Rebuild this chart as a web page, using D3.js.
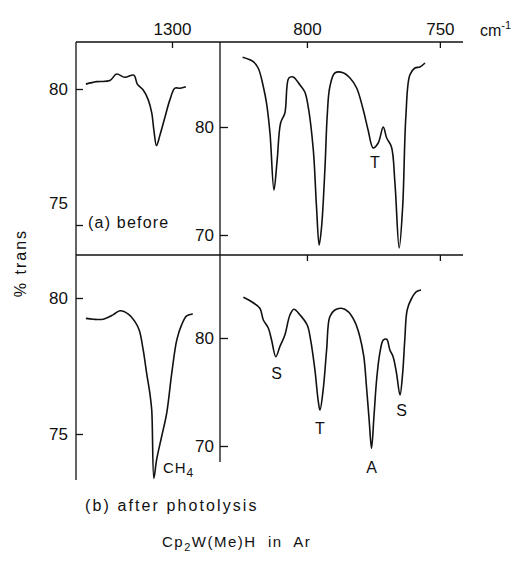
<!DOCTYPE html>
<html>
<head>
<meta charset="utf-8">
<script src="https://cdn.jsdelivr.net/npm/d3@7"></script>
<style>
  body { margin: 0; background: #fff; }
  svg text { font-family: "Liberation Sans", sans-serif; fill: #111; }
</style>
</head>
<body>
<svg id="chart" width="514" height="573"></svg>
<script>
// espectros: [numero de onda (cm-1), % trans]
const beforeCH4 = [[1332.3,80.18],[1328.3,80.27],[1323.3,80.31],[1320.8,80.55],[1317.7,80.43],[1314.3,80.51],
  [1313.0,80.18],[1310.8,79.96],[1308.9,79.6],[1307.6,79.12],[1306.8,78.49],[1305.8,77.92],[1304.5,78.31],
  [1302.6,78.98],[1300.8,79.6],[1298.9,80.03],[1297.0,80.03],[1294.8,80.08]];

const beforeLow = [[824.2,86.45],[820.2,86.05],[818.3,85.44],[816.4,83.73],[815.2,82.22],[813.9,79.44],
  [812.4,74.17],[811.2,76.94],[809.9,80.37],[808.3,81.3],[806.8,84.54],[805.2,84.63],[802.6,83.89],
  [800.8,83.24],[799.5,81.85],[797.6,77.87],[796.4,72.59],[795.4,69.07],[794.5,70.74],[793.2,76.3],
  [792.4,80.93],[791.4,83.7],[789.5,85.0],[786.4,85.03],[783.8,84.54],[781.3,83.61],[778.8,81.57],
  [777.0,79.72],[775.1,78.06],[773.2,78.52],[771.3,80.0],[770.0,78.98],[768.2,78.15],[766.9,74.81],
  [765.3,68.8],[764.0,72.59],[762.8,80.93],[761.3,84.81],[759.4,85.46],[757.5,85.56],[755.6,85.93]];

const afterCH4 = [[1332.3,79.25],[1329.6,79.22],[1325.8,79.22],[1322.1,79.38],[1319.5,79.53],[1316.4,79.41],
  [1313.9,79.13],[1312.3,78.82],[1310.8,78.09],[1309.5,77.23],[1308.3,76.49],[1307.6,75.88],[1306.8,73.37],
  [1305.8,74.04],[1303.9,74.9],[1302.0,75.76],[1300.1,77.23],[1298.2,78.46],[1296.4,79.01],[1294.5,79.34],
  [1292.2,79.41]];

const afterLow = [[823.9,83.77],[820.8,83.36],[817.7,82.75],[816.4,81.67],[814.5,80.9],[813.3,79.81],
  [811.7,78.27],[810.2,79.19],[808.3,80.28],[806.4,82.13],[804.9,82.66],[802.6,82.13],[799.9,81.2],
  [798.6,79.81],[797.0,77.04],[795.8,74.26],[795.1,73.33],[793.9,75.19],[792.6,78.89],[791.4,81.97],
  [789.5,82.59],[787.0,82.75],[784.5,82.44],[782.0,81.51],[780.1,80.12],[778.6,78.27],[777.6,75.49],
  [776.6,72.41],[775.7,69.79],[774.8,72.71],[773.8,76.11],[772.6,78.58],[771.3,79.81],[770.0,79.88],
  [768.8,78.89],[767.6,78.27],[766.3,76.73],[765.0,74.72],[764.0,76.73],[763.2,79.81],[762.3,82.59],
  [760.6,83.68],[758.8,84.29],[757.1,84.44]];

// rótulos das bandas
const labelsBefore = [{text: "T", cm: 774.4, t: 76.7}];
const labelsAfter = [
  {text: "S", cm: 811.4, t: 76.7},
  {text: "T", cm: 795.1, t: 71.6},
  {text: "A", cm: 775.7, t: 68.0},
  {text: "S", cm: 764.4, t: 73.3}
];

const ticksHigh = [1300];
const ticksLow = [800, 750];
const ticksTopLeft = [80, 75];
const ticksTopRight = [80, 70];
const ticksBotLeft = [80, 75];
const ticksBotRight = [80, 70];

const svg = d3.select("#chart");

// escalas
const xHigh = d3.scaleLinear().domain([1336, 1282]).range([76, 220]);
const xLow = d3.scaleLinear().domain([832.7, 741.3]).range([220, 463]);
const yTL = d3.scaleLinear().domain([75, 80]).range([225, 89]);
const yTR = d3.scaleLinear().domain([70, 80]).range([235, 127]);
const yBL = d3.scaleLinear().domain([75, 80]).range([434, 298]);
const yBR = d3.scaleLinear().domain([70, 80]).range([446, 338]);

const frame = svg.append("g").attr("stroke", "#111").attr("stroke-width", 1.3).attr("fill", "none");
frame.append("line").attr("x1", 76).attr("x2", 463).attr("y1", 42).attr("y2", 42);
frame.append("line").attr("x1", 76).attr("x2", 463).attr("y1", 255).attr("y2", 255);
frame.append("line").attr("x1", 76).attr("x2", 76).attr("y1", 42).attr("y2", 480);
frame.append("line").attr("x1", 220).attr("x2", 220).attr("y1", 42).attr("y2", 462);

function styleAxis(g) {
  g.select(".domain").remove();
  g.selectAll(".tick line").attr("stroke", "#111").attr("stroke-width", 1.3);
  g.selectAll("text").style("font-size", "17px").attr("fill", "#111")
    .style("font-family", "Liberation Sans, sans-serif");
}

const fmt = d3.format("d");

// eixos de cima
svg.append("g").attr("transform", "translate(0,42)")
  .call(d3.axisTop(xHigh).tickValues(ticksHigh).tickFormat(fmt).tickSizeInner(-6).tickPadding(7))
  .call(styleAxis);
svg.append("g").attr("transform", "translate(0,42)")
  .call(d3.axisTop(xLow).tickValues(ticksLow).tickFormat(fmt).tickSizeInner(-6).tickPadding(7))
  .call(styleAxis);
svg.append("g").attr("transform", "translate(0,255)")
  .call(d3.axisTop(xLow).tickValues(ticksLow).tickFormat("").tickSizeInner(-6))
  .call(styleAxis);

// eixos y
svg.append("g").attr("transform", "translate(76,0)")
  .call(d3.axisLeft(yTL).tickValues(ticksTopLeft).tickFormat(fmt).tickSizeInner(-7).tickPadding(8))
  .call(styleAxis)
  .selectAll(".tick text").filter(d => d === 75).attr("y", -22);
svg.append("g").attr("transform", "translate(220,0)")
  .call(d3.axisLeft(yTR).tickValues(ticksTopRight).tickFormat(fmt).tickSizeInner(-8).tickPadding(6))
  .call(styleAxis);
svg.append("g").attr("transform", "translate(76,0)")
  .call(d3.axisLeft(yBL).tickValues(ticksBotLeft).tickFormat(fmt).tickSizeInner(-7).tickPadding(8))
  .call(styleAxis);
svg.append("g").attr("transform", "translate(220,0)")
  .call(d3.axisLeft(yBR).tickValues(ticksBotRight).tickFormat(fmt).tickSizeInner(-8).tickPadding(6))
  .call(styleAxis);

// curvas
function drawSpectrum(data, x, y) {
  const line = d3.line()
    .x(d => x(d[0]))
    .y(d => y(d[1]))
    .curve(d3.curveCatmullRom.alpha(0.5));
  svg.append("path")
    .datum(data)
    .attr("fill", "none")
    .attr("stroke", "#111")
    .attr("stroke-width", 1.6)
    .attr("stroke-linejoin", "round")
    .attr("d", line);
}
drawSpectrum(beforeCH4, xHigh, yTL);
drawSpectrum(beforeLow, xLow, yTR);
drawSpectrum(afterCH4, xHigh, yBL);
drawSpectrum(afterLow, xLow, yBR);

function drawLabels(list, y) {
  svg.selectAll(null).data(list).enter().append("text")
    .attr("x", d => xLow(d.cm))
    .attr("y", d => y(d.t))
    .attr("dy", "0.35em")
    .attr("text-anchor", "middle")
    .style("font-size", "16px")
    .text(d => d.text);
}
drawLabels(labelsBefore, yTR);
drawLabels(labelsAfter, yBR);

// CH4
const ch4 = svg.append("text")
  .attr("x", xHigh(1303.4)).attr("y", yBL(73.75)).attr("dy", "0.35em")
  .style("font-size", "15px").style("letter-spacing", "1px");
ch4.append("tspan").text("CH");
ch4.append("tspan").attr("dy", "4").style("font-size", "12px").text("4");

// textos
svg.append("text").attr("x", 88).attr("y", 222).attr("dy", "0.35em")
  .style("font-size", "16px").style("letter-spacing", "1.2px").text("(a) before");
svg.append("text").attr("x", 85).attr("y", 505).attr("dy", "0.35em")
  .style("font-size", "16px").style("letter-spacing", "2.1px").text("(b) after photolysis");

const cm = svg.append("text").attr("x", 480).attr("y", 36).style("font-size", "16px");
cm.append("tspan").text("cm");
cm.append("tspan").attr("dy", "-7").style("font-size", "11px").text("-1");

svg.append("text")
  .attr("transform", "translate(26,263) rotate(-90)")
  .attr("text-anchor", "middle")
  .style("font-size", "16px").style("letter-spacing", "2px")
  .text("% trans");

const title = svg.append("text").attr("x", 162).attr("y", 547)
  .style("font-size", "15px").style("letter-spacing", "1.5px").style("white-space", "pre");
title.append("tspan").text("Cp");
title.append("tspan").attr("dy", "4").style("font-size", "11px").text("2");
title.append("tspan").attr("dy", "-4").text("W(Me)H  in  Ar");
</script>
</body>
</html>
